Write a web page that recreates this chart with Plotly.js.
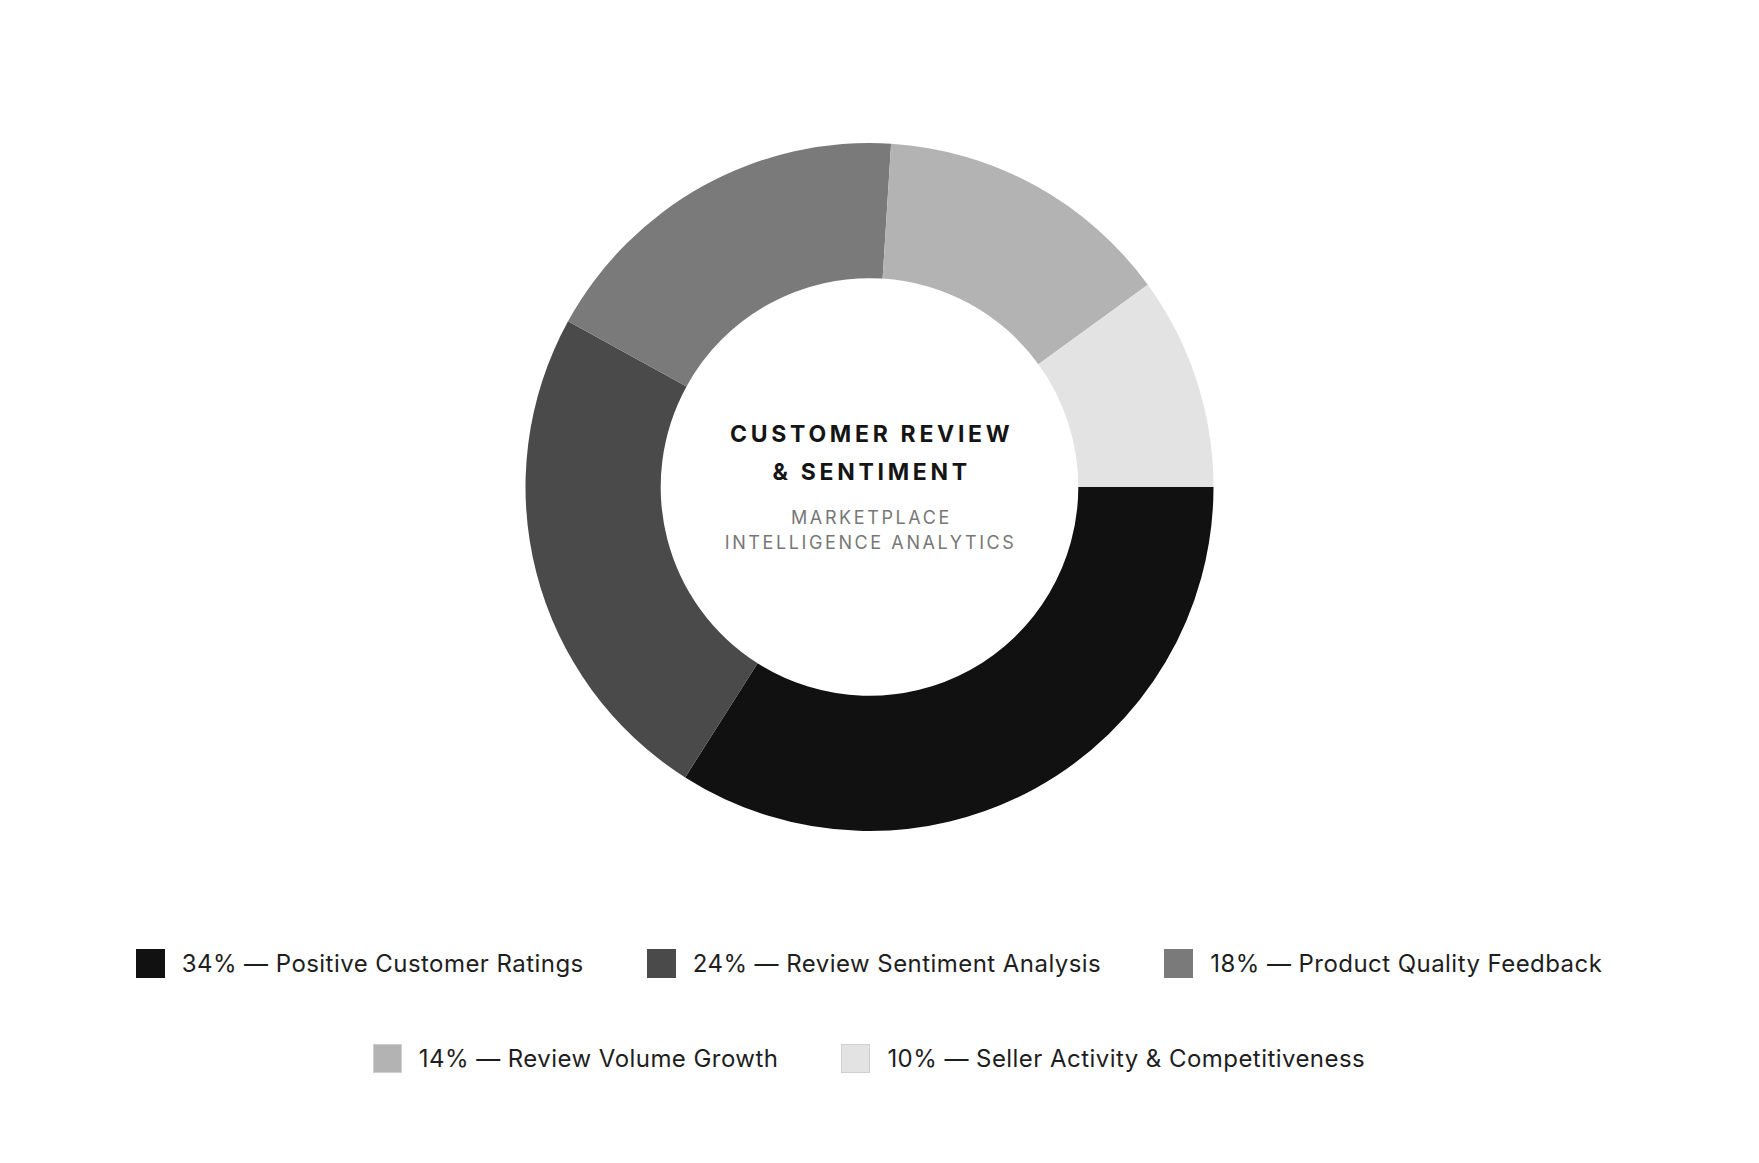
<!DOCTYPE html>
<html>
<head>
<meta charset="utf-8">
<script src="https://cdn.plot.ly/plotly-3.0.1.min.js"></script>
<style>
  html, body { margin: 0; padding: 0; background: #ffffff; }
  #wrap { position: relative; width: 1759px; height: 1163px; }
  #chart { position: absolute; left: 0; top: 0; width: 1759px; height: 1163px; }
  #legend { position: absolute; left: 20px; width: 1698px; top: 949px;
    display: flex; flex-wrap: wrap; justify-content: center; row-gap: 66px; column-gap: 63px;
    font-family: Inter, "Noto Sans", sans-serif; font-size: 24px; letter-spacing: 0.45px; color: #1e1e1e; }
  .item { display: flex; align-items: center; height: 29px; }
  .sw { width: 29px; height: 29px; margin-right: 17px; box-sizing: border-box; }
</style>
</head>
<body>
<div id="wrap">
  <div id="chart"></div>
  <div id="legend"></div>
</div>
<script>
const categories = [
  "Positive Customer Ratings",
  "Review Sentiment Analysis",
  "Product Quality Feedback",
  "Review Volume Growth",
  "Seller Activity & Competitiveness"
];
const values = [34, 24, 18, 14, 10];
const colors = ["#111111", "#4a4a4a", "#7a7a7a", "#b3b3b3", "#e3e3e3"];
const centerTitle = ["CUSTOMER REVIEW", "& SENTIMENT"];
const centerSubtitle = ["MARKETPLACE", "INTELLIGENCE ANALYTICS"];

const trace = {
  type: "pie",
  labels: categories,
  values: values,
  hole: 0.607,
  sort: false,
  direction: "clockwise",
  rotation: 90,
  textinfo: "none",
  hoverinfo: "label+percent",
  marker: { colors: colors, line: { width: 0 } },
  showlegend: false
};

function ann(text, y, size, color, weight) {
  return {
    text: text,
    x: 0.5, xref: "paper", y: y, yref: "paper",
    xanchor: "center", yanchor: "middle", showarrow: false,
    font: { family: "Inter, 'Noto Sans', sans-serif", size: size, color: color, weight: weight }
  };
}

const H0 = 831, PH = 688.5;
function py(p) { return (H0 - p) / PH; }

const layout = {
  width: 1759, height: 1163,
  margin: { l: 0, r: 20, t: 142.5, b: 332 },
  paper_bgcolor: "#ffffff",
  plot_bgcolor: "#ffffff",
  showlegend: false,
  annotations: [
    ann(centerTitle[0], py(434), 23, "#151515", 700),
    ann(centerTitle[1], py(472), 23, "#151515", 700),
    ann(centerSubtitle[0], py(517), 18, "#777777", 400),
    ann(centerSubtitle[1], py(542), 18, "#777777", 400)
  ]
};

Plotly.newPlot("chart", [trace], layout, { displayModeBar: false, staticPlot: true }).then(function () {
  const texts = document.querySelectorAll("#chart .annotation-text");
  texts.forEach(function (t, i) {
    const ls = i < 2 ? 3.7 : 2.6;
    t.style.letterSpacing = ls + "px";
    const tr = t.getAttribute("transform") || "";
    t.setAttribute("transform", tr + " translate(" + (ls / 2) + ",0)");
  });
});

const leg = document.getElementById("legend");
const total = values.reduce((a, b) => a + b, 0);
categories.forEach((c, i) => {
  const it = document.createElement("div");
  it.className = "item";
  const sw = document.createElement("div");
  sw.className = "sw";
  sw.style.background = colors[i];
  if (i >= 3) sw.style.border = "1px solid #cfcfcf";
  const tx = document.createElement("span");
  tx.textContent = Math.round(values[i] / total * 100) + "% \u2014 " + c;
  it.appendChild(sw); it.appendChild(tx);
  leg.appendChild(it);
});
</script>
</body>
</html>
